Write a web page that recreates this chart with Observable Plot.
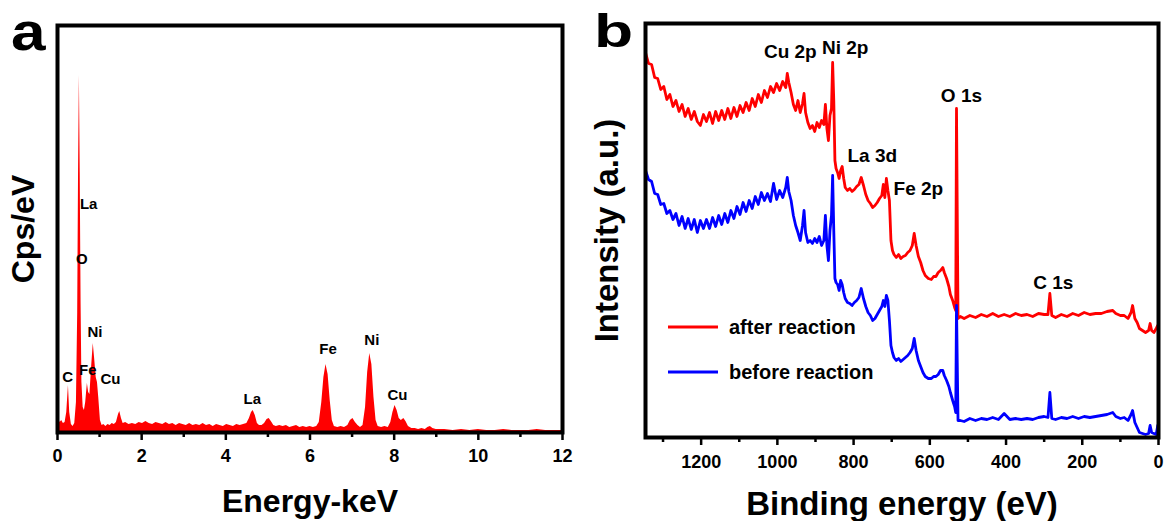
<!DOCTYPE html>
<html>
<head>
<meta charset="utf-8">
<script src="https://cdn.jsdelivr.net/npm/d3@7"></script>
<script src="https://cdn.jsdelivr.net/npm/@observablehq/plot@0.6"></script>
<style>
  html, body { margin: 0; padding: 0; background: #fff; }
  #wrap { position: relative; width: 1165px; height: 521px; overflow: hidden; font-family: "Liberation Sans", Arial, sans-serif; }
  #panelA { position: absolute; left: 0; top: 0; }
  #panelB { position: absolute; left: 580px; top: 0; }
  #overlay { position: absolute; left: 0; top: 0; pointer-events: none; }
  .letter { position: absolute; font-weight: bold; line-height: 34px; height: 34px; color: #000; white-space: nowrap; }
</style>
</head>
<body>
<div id="wrap">
  <div id="panelA"></div>
  <div id="panelB"></div>
  <svg id="overlay" width="1165" height="521"></svg>
  <div class="letter" id="letterA" style="left:11px; top:13.5px; font-size:54px; transform-origin: 0 0; transform: scale(1.15, 1);">a</div>
  <div class="letter" id="letterB" style="left:594px; top:8px; font-size:64px; transform-origin: 0 39px; transform: scale(1, 0.73);">b</div>
</div>
<script>
// ---------- Panel a: EDS spectrum ----------
const edsEnergy = [0.00,0.03,0.06,0.10,0.14,0.18,0.22,0.26,0.29,0.33,
0.37,0.41,0.45,0.48,0.50,0.52,0.54,0.56,0.58,0.61,
0.64,0.67,0.71,0.74,0.77,0.81,0.85,0.88,0.92,0.95,
0.98,1.02,1.06,1.10,1.15,1.20,1.25,1.30,1.35,1.40,
1.45,1.48,1.52,1.56,1.62,1.70,1.78,1.86,1.94,2.02,
2.10,2.18,2.26,2.34,2.42,2.50,2.58,2.66,2.74,2.82,
2.90,2.98,3.06,3.14,3.22,3.30,3.38,3.46,3.54,3.62,
3.70,3.78,3.86,3.94,4.02,4.10,4.18,4.26,4.34,4.42,
4.50,4.56,4.61,4.65,4.70,4.75,4.80,4.86,4.92,4.98,
5.03,5.08,5.14,5.20,5.28,5.36,5.44,5.52,5.60,5.68,
5.76,5.84,5.92,6.00,6.08,6.16,6.22,6.28,6.33,6.38,
6.43,6.48,6.53,6.58,6.66,6.74,6.82,6.90,6.96,7.02,
7.08,7.14,7.20,7.26,7.32,7.37,7.42,7.47,7.52,7.57,
7.62,7.70,7.78,7.86,7.92,7.97,8.02,8.07,8.12,8.17,
8.23,8.28,8.34,8.42,8.50,8.58,8.66,8.74,8.80,8.86,
8.92,9.00,9.20,9.40,9.60,9.80,10.0,10.2,10.4,10.6,
10.8,11.0,11.2,11.4,11.6,11.8,12.0];
const edsCounts = [8,14,10,12,9,10,20,47,20,8,
6,9,30,120,260,357,260,130,50,25,
22,30,49,40,38,65,89,75,55,50,
35,12,7,8,6,8,7,9,8,10,
18,21,14,9,10,8,9,8,10,9,
11,9,8,10,9,8,10,8,9,7,
9,8,7,9,7,8,7,9,7,8,
6,8,7,6,8,7,6,8,7,8,
9,14,20,22,17,9,7,7,9,13,
14,11,7,6,7,6,7,5,6,7,
5,6,5,6,5,6,10,30,55,68,
58,32,12,6,5,6,5,7,12,14,
10,7,5,7,25,60,79,68,35,12,
6,5,6,5,10,20,27,22,14,12,
14,11,6,4,4,3,4,3,5,6,
4,3,3,2,3,2,3,2,2,3,
2,2,2,3,2,2,2];
const edsLabelText = ["C","Fe","Cu","Ni","O","La","La","Fe","Ni","Cu"];
const edsLabelEnergy = [0.24,0.72,1.26,0.89,0.58,0.74,4.63,6.43,7.47,8.08];
const edsLabelCounts = [55,62,53,100,173,228,33,83,92,37];
const edsMajorTicks = [0,2,4,6,8,10,12];
const edsMinorTicks = [1,3,5,7,9,11];

// ---------- Panel b: XPS survey ----------
const bindingEnergy = [1346,1338,1330,1322,1314,1306,1298,1290,1282,1274,
1266,1258,1250,1242,1234,1226,1218,1210,1202,1194,
1186,1178,1170,1162,1154,1146,1138,1130,1122,1114,
1106,1098,1090,1082,1074,1066,1058,1050,1042,1034,
1026,1018,1010,1002,994,986,978,974,970,964,
958,952,946,940,934,930,926,920,914,908,
902,896,890,884,878,874,870,866,862,858,
855,852,849,846,842,838,834,830,826,822,
816,810,804,798,792,786,780,774,768,762,
756,750,744,738,732,726,722,718,714,710,
706,702,698,694,688,682,676,670,664,658,
652,646,641,636,630,624,618,612,604,596,
590,584,578,572,566,562,556,550,546,540,
535,532,530,526,520,510,495,480,465,450,
435,420,405,390,375,360,345,330,315,300,
290,285,280,270,255,240,225,210,195,180,
165,150,135,120,112,100,90,80,72,68,
62,56,50,42,34,26,22,18,12,6,
2];
const afterReaction = [385,374,373,360,359,348,351,338,343,331,
337,326,333,321,329,318,326,316,312,323,
316,325,314,326,317,327,318,329,319,330,
321,332,325,335,327,339,331,343,335,347,
340,351,345,354,347,356,350,364,355,345,
333,327,337,325,334,344,325,315,309,312,
306,315,310,317,313,333,309,297,322,329,
375,337,277,269,265,259,267,271,259,250,
247,249,246,248,251,253,260,252,243,237,
234,230,232,235,239,242,253,240,259,247,
237,197,187,183,180,183,179,181,182,185,
187,192,204,192,181,175,167,162,159,158,
161,161,165,167,170,165,159,151,143,137,
130,127,329,119,121,119,122,120,123,121,
124,121,123,121,124,122,123,121,124,123,
123,144,122,120,123,121,124,122,125,123,
124,124,126,127,124,122,122,119,125,132,
119,115,109,107,105,107,114,107,105,109,
112];
const beforeReaction = [267,258,256,244,243,233,234,224,227,218,
224,212,221,209,219,208,218,205,217,209,
218,209,220,211,222,213,224,215,227,219,
231,223,235,226,237,229,241,233,245,237,
244,236,254,238,247,240,250,260,246,237,
222,212,205,197,212,227,205,195,197,194,
199,195,201,192,197,222,192,177,207,222,
262,207,159,155,153,147,157,153,145,139,
135,134,132,135,137,140,149,139,131,125,
122,117,119,123,127,131,137,131,142,137,
117,92,85,80,77,79,76,78,80,82,
85,89,99,87,77,71,65,61,59,59,
61,61,63,67,67,62,57,51,45,37,
31,25,132,17,17,16,19,17,19,18,
20,18,24,18,19,18,19,18,20,21,
20,45,19,18,20,19,21,19,21,20,
21,22,23,25,21,19,20,17,23,27,
15,10,5,4,3,4,12,5,4,3,
12];
const xpsLabelText = ["Cu 2p","Ni 2p","La 3d","Fe 2p","O 1s","C 1s"];
const xpsLabelEnergy = [966,822,751,630,517,276];
const xpsLabelIntensity = [386,390,282,249,342,155];
const xpsMajorTicks = [0,200,400,600,800,1000,1200];
const xpsMinorTicks = [100,300,500,700,900,1100,1300];
const seriesNames = ["after reaction","before reaction"];
const seriesColors = ["#ff0000","#0000ff"];

const FONT = "'Liberation Sans', Arial, Helvetica, sans-serif";

// ---- build panel a ----
const eds = edsEnergy.map((e, i) => ({e, c: edsCounts[i]}));
const edsLabels = edsLabelText.map((t, i) => ({t, e: edsLabelEnergy[i], c: edsLabelCounts[i]}));

const plotA = Plot.plot({
  width: 580,
  height: 521,
  marginLeft: 57,
  marginRight: 18,
  marginTop: 25,
  marginBottom: 89,
  style: {fontFamily: FONT, color: "black", background: "white", overflow: "visible"},
  x: {domain: [0, 12]},
  y: {domain: [0, 407], axis: null},
  marks: [
    Plot.areaY(eds, {x: "e", y: "c", fill: "#ff0000", curve: "linear"}),
    Plot.text(edsLabels, {x: "e", y: "c", text: "t", fontSize: 15, fontWeight: "bold", fill: "black", lineAnchor: "middle"}),
    Plot.axisX({ticks: edsMinorTicks, tickSize: 5, strokeWidth: 2.5, tickFormat: () => "", label: null}),
    Plot.axisX({ticks: edsMajorTicks, tickSize: 8, tickPadding: 9, strokeWidth: 2.5, fontSize: 18, fontWeight: "bold", tickFormat: d => String(d), label: null}),
    Plot.frame({stroke: "black", strokeWidth: 4}),
    Plot.text(["Energy-keV"], {frameAnchor: "bottom", dy: 69, fontSize: 32, fontWeight: "bold", lineAnchor: "middle", fill: "black"}),
    Plot.text(["Cps/eV"], {frameAnchor: "left", dx: -34, rotate: -90, fontSize: 32, fontWeight: "bold", lineAnchor: "middle", textAnchor: "middle", fill: "black"})
  ]
});
document.getElementById("panelA").appendChild(plotA);

// ---- build panel b ----
const xps = bindingEnergy.map((e, i) => ({e, after: afterReaction[i], before: beforeReaction[i]}));
const xpsLabels = xpsLabelText.map((t, i) => ({t, e: xpsLabelEnergy[i], v: xpsLabelIntensity[i]}));

const plotB = Plot.plot({
  width: 585,
  height: 521,
  marginLeft: 65,
  marginRight: 7,
  marginTop: 23,
  marginBottom: 84,
  style: {fontFamily: FONT, color: "black", background: "white", overflow: "visible"},
  x: {domain: [1346, 0]},
  y: {domain: [0, 414], axis: null},
  marks: [
    Plot.line(xps, {x: "e", y: "after", stroke: seriesColors[0], strokeWidth: 2.8, curve: "linear"}),
    Plot.line(xps, {x: "e", y: "before", stroke: seriesColors[1], strokeWidth: 2.8, curve: "linear"}),
    Plot.text(xpsLabels, {x: "e", y: "v", text: "t", fontSize: 19, fontWeight: "bold", fill: "black", lineAnchor: "middle"}),
    Plot.axisX({ticks: xpsMinorTicks, tickSize: 5, strokeWidth: 2.5, tickFormat: () => "", label: null}),
    Plot.axisX({ticks: xpsMajorTicks, tickSize: 8, tickPadding: 10, strokeWidth: 2.5, fontSize: 18, fontWeight: "bold", tickFormat: d => String(d), label: null}),
    Plot.frame({stroke: "black", strokeWidth: 4}),
    Plot.text(["Binding energy (eV)"], {frameAnchor: "bottom", dy: 67, fontSize: 33, fontWeight: "bold", lineAnchor: "middle", fill: "black"}),
    Plot.text(["Intensity (a.u.)"], {frameAnchor: "left", dx: -38, rotate: -90, fontSize: 33, fontWeight: "bold", lineAnchor: "middle", textAnchor: "middle", fill: "black"})
  ]
});
document.getElementById("panelB").appendChild(plotB);

// ---- overlay: legend ----
const ov = d3.select("#overlay").style("font-family", FONT);
const legY = [327, 372];
seriesNames.forEach((name, i) => {
  ov.append("line").attr("x1", 668).attr("x2", 718).attr("y1", legY[i]).attr("y2", legY[i])
    .attr("stroke", seriesColors[i]).attr("stroke-width", 3);
  ov.append("text").attr("x", 729).attr("y", legY[i] + 7).attr("font-size", 20).attr("font-weight", "bold").text(name);
});
</script>
</body>
</html>
